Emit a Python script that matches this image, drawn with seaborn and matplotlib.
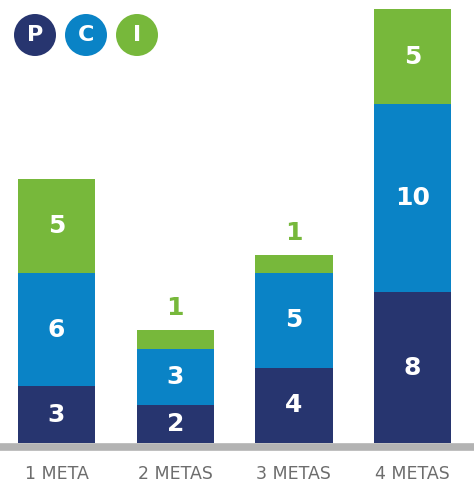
import pandas as pd
import matplotlib
matplotlib.use("Agg")
import matplotlib.pyplot as plt
from matplotlib.patches import Circle
import seaborn as sns

# dados do gráfico
categorias = ["1 META", "2 METAS", "3 METAS", "4 METAS"]
p_vals = [3, 2, 4, 8]
c_vals = [6, 3, 5, 10]
i_vals = [5, 1, 1, 5]
legenda = ["P", "C", "I"]

cor_p = "#27356f"
cor_c = "#0a83c6"
cor_i = "#77b83b"
cor_txt = "#6d6d6d"

df = pd.DataFrame({"cat": categorias, "p": p_vals, "c": c_vals, "i": i_vals})
df["pc"] = df["p"] + df["c"]
df["tot"] = df["pc"] + df["i"]

sns.set_style("white")
plt.rcParams["font.family"] = ["DejaVu Sans"]

fig = plt.figure(figsize=(4.74, 4.87), dpi=100)
ax = fig.add_axes([0.0, 0.0903, 1.0, 0.9097])

# barras empilhadas: total, depois P+C, depois P por cima
for col, cor, z in [("tot", cor_i, 2), ("pc", cor_c, 3), ("p", cor_p, 4)]:
    sns.barplot(data=df, x="cat", y=col, color=cor, width=0.65, saturation=1,
                linewidth=0, ax=ax, zorder=z)

ax.set_xlim(-0.476, 3.517)
ax.set_ylim(0, 23.5)
sns.despine(ax=ax, left=True, bottom=True)
ax.set_yticks([])
ax.set_xlabel("")
ax.set_ylabel("")
ax.tick_params(axis="x", length=0, pad=16, labelsize=12.5, labelcolor=cor_txt)

# linha de base cinza
ax.axhline(-0.2, color="#b3b3b3", linewidth=5.5, clip_on=False, zorder=1)

# rótulos dos segmentos
fs = 18
for k, row in df.iterrows():
    ax.text(k, row["p"] / 2, str(row["p"]), ha="center", va="center",
            color="white", fontsize=fs, fontweight="heavy", zorder=5)
    ax.text(k, row["p"] + row["c"] / 2, str(row["c"]), ha="center", va="center",
            color="white", fontsize=fs, fontweight="heavy", zorder=5)
    if row["i"] >= 2:
        ax.text(k, row["pc"] + row["i"] / 2, str(row["i"]), ha="center", va="center",
                color="white", fontsize=fs, fontweight="heavy", zorder=5)
    else:
        ax.text(k, row["tot"] + 1.15, str(row["i"]), ha="center", va="center",
                color=cor_i, fontsize=fs, fontweight="heavy", zorder=5)

# legenda em círculos
for j, (letra, cor) in enumerate(zip(legenda, [cor_p, cor_c, cor_i])):
    cx = 0.35 + j * 0.51
    cy = 4.87 - 0.35
    fig.add_artist(Circle((cx, cy), 0.21, transform=fig.dpi_scale_trans,
                          facecolor=cor, edgecolor="none"))
    fig.text(cx / 4.74, cy / 4.87, letra, ha="center", va="center",
             color="white", fontsize=16, fontweight="heavy")

fig.savefig("out.png", dpi=100)
